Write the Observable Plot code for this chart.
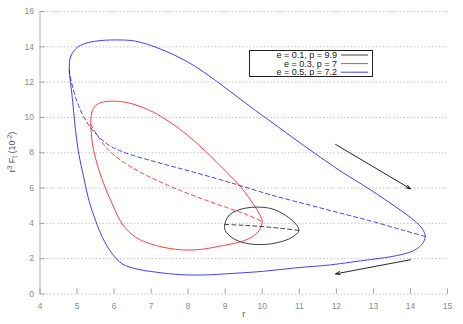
<!DOCTYPE html>
<html>
<head>
<meta charset="utf-8">
<script src="https://cdn.jsdelivr.net/npm/d3@7"></script>
<script src="https://cdn.jsdelivr.net/npm/@observablehq/plot@0.6"></script>
<style>
  body { margin: 0; background: #fff; }
  svg { display: block; }
</style>
</head>
<body>
<div id="chart"></div>
<script>
// ---- tick values ----
const xTicks = [4, 5, 6, 7, 8, 9, 10, 11, 12, 13, 14, 15];
const yTicks = [0, 2, 4, 6, 8, 10, 12, 14, 16];

// ---- series ----
const seriesNames = ["e = 0.1, p = 9.9", "e = 0.3, p = 7", "e = 0.5, p = 7.2"];
const seriesColors = ["#000000", "#ff0000", "#0000ff"];

// e = 0.1, p = 9.9 (black) : closed loop and dashed chord
const blackLoopR = [8.99, 9.1, 9.37, 9.82, 10.27, 10.63, 10.9, 10.99, 10.81, 10.45, 10.0, 9.55, 9.19, 9.0];
const blackLoopV = [3.94, 4.45, 4.77, 4.92, 4.82, 4.45, 3.97, 3.6, 3.22, 2.93, 2.8, 2.88, 3.18, 3.6];
const blackDashR = [8.99, 9.5, 10.0, 10.5, 10.99];
const blackDashV = [3.94, 3.89, 3.82, 3.72, 3.6];

// e = 0.3, p = 7 (red)
const redLoopR = [5.37, 5.40, 5.5, 5.68, 6.04, 6.4, 6.94, 7.4, 7.95, 8.5, 9.0, 9.45, 9.75, 9.93, 10.0, 9.92, 9.73, 9.37, 8.92, 8.4, 7.84, 7.12, 6.58, 6.22, 5.95, 5.72, 5.54, 5.45, 5.4];
const redLoopV = [9.6, 10.3, 10.67, 10.86, 10.92, 10.82, 10.42, 9.88, 9.05, 8.02, 6.98, 5.98, 5.12, 4.5, 4.1, 3.62, 3.24, 2.93, 2.74, 2.54, 2.5, 2.75, 3.22, 3.97, 5.1, 6.24, 7.37, 8.13, 8.75];
const redDashR = [5.37, 5.63, 5.9, 6.26, 6.71, 7.16, 7.79, 8.51, 9.14, 9.6, 10.0];
const redDashV = [9.6, 8.72, 8.05, 7.46, 6.9, 6.43, 5.86, 5.29, 4.82, 4.48, 4.1];

// e = 0.5, p = 7.2 (blue)
const blueLoopR = [4.79, 4.82, 4.96, 5.14, 5.5, 6.04, 6.58, 7.12, 7.66, 8.2, 8.74, 9.28, 9.82, 10.22, 11.12, 12.02, 12.92, 13.64, 14.09, 14.32, 14.4, 14.32, 14.09, 13.64, 12.92, 12.38, 11.84, 10.9, 10.0, 9.0, 8.47, 7.84, 7.12, 6.58, 6.22, 5.95, 5.68, 5.5, 5.32, 5.18, 5.05, 4.96, 4.87, 4.81];
const blueLoopV = [12.7, 13.41, 13.88, 14.13, 14.32, 14.39, 14.32, 13.98, 13.5, 12.88, 12.09, 11.24, 10.39, 9.78, 8.41, 7.09, 5.9, 4.88, 4.18, 3.69, 3.26, 2.84, 2.46, 2.18, 1.95, 1.8, 1.65, 1.48, 1.28, 1.14, 1.08, 1.09, 1.24, 1.43, 1.71, 2.28, 3.22, 4.16, 5.29, 6.61, 7.9, 9.26, 11.14, 12.2];
const blueDashR = [4.79, 4.82, 4.96, 5.14, 5.36, 5.81, 6.26, 7.16, 8.06, 8.96, 9.5, 10.22, 11.12, 12.02, 12.92, 13.82, 14.4];
const blueDashV = [12.7, 12.28, 11.14, 10.2, 9.44, 8.5, 8.03, 7.46, 6.95, 6.42, 6.08, 5.62, 5.12, 4.63, 4.14, 3.6, 3.26];

// direction arrows
const arrowX1 = [11.98, 14.0];
const arrowY1 = [8.47, 1.94];
const arrowX2 = [14.0, 11.98];
const arrowY2 = [5.96, 1.14];

// ---- tables built from the arrays ----
const pts = (rs, vs, series) => rs.map((r, i) => ({r, v: vs[i], series}));
const loops = [
  ...pts(blackLoopR, blackLoopV, seriesNames[0]),
  ...pts(redLoopR, redLoopV, seriesNames[1]),
  ...pts(blueLoopR, blueLoopV, seriesNames[2])
];
const chords = [
  ...pts(blackDashR, blackDashV, seriesNames[0]),
  ...pts(redDashR, redDashV, seriesNames[1]),
  ...pts(blueDashR, blueDashV, seriesNames[2])
];
const arrows = arrowX1.map((x, i) => ({x1: x, y1: arrowY1[i], x2: arrowX2[i], y2: arrowY2[i]}));

const font = "'Liberation Sans', Arial, Helvetica, sans-serif";

const svg = Plot.plot({
  width: 463,
  height: 324,
  marginLeft: 39.5,
  marginRight: 16,
  marginTop: 11,
  marginBottom: 30.5,
  style: {fontFamily: font, fontSize: "8.5px", background: "#fff", color: "#222"},
  x: {domain: [4, 15], label: null},
  y: {domain: [0, 16], label: null},
  color: {domain: seriesNames, range: seriesColors},
  marks: [
    Plot.ruleY(yTicks, {stroke: "#c4c4c4", strokeDasharray: "1.5,2"}),
    Plot.ruleX([4], {stroke: "#b0b0b0"}),
    Plot.axisY({ticks: yTicks, tickSize: 0, tickPadding: 6, fill: "#8a8a8a", label: null}),
    Plot.axisY({ticks: yTicks, tickSize: 5, dx: 5, stroke: "#a0a0a0", tickFormat: () => "", label: null}),
    Plot.axisX({ticks: xTicks, tickSize: 0, tickPadding: 9, fill: "#8a8a8a", label: null}),
    Plot.axisX({ticks: xTicks, tickSize: 5, dy: -5, stroke: "#a0a0a0", tickFormat: () => "", label: null}),
    Plot.text(["r"], {frameAnchor: "bottom", dy: 22.5, fill: "#555", fontSize: 9}),
    Plot.line(loops, {x: "r", y: "v", z: "series", stroke: "series", strokeWidth: 0.75, curve: "catmull-rom-closed"}),
    Plot.line(chords, {x: "r", y: "v", z: "series", stroke: "series", strokeWidth: 0.75, strokeDasharray: "4,3", curve: "catmull-rom"}),
    Plot.arrow(arrows, {x1: "x1", y1: "y1", x2: "x2", y2: "y2", stroke: "#000", strokeWidth: 0.85, headLength: 8, headAngle: 40})
  ]
});

// y-axis title with super/subscripts
const s = d3.select(svg);
const yl = s.append("text")
  .attr("transform", "translate(15,152) rotate(-90)")
  .attr("text-anchor", "middle")
  .attr("fill", "#555")
  .style("font-family", font)
  .style("font-size", "9px");
yl.append("tspan").text("r");
yl.append("tspan").attr("dy", -3.5).style("font-size", "6.5px").text("3");
yl.append("tspan").attr("dy", 3.5).text(" F");
yl.append("tspan").attr("dy", 2).style("font-size", "6.5px").text("t");
yl.append("tspan").attr("dy", -2).text(" (10");
yl.append("tspan").attr("dy", -3.5).style("font-size", "6.5px").text("-2");
yl.append("tspan").attr("dy", 3.5).text(")");

// legend box
const lg = s.append("g").style("font-family", font).style("font-size", "9px");
lg.append("rect").attr("x", 249.5).attr("y", 50.5).attr("width", 123).attr("height", 26)
  .attr("fill", "#fff").attr("stroke", "#222").attr("stroke-width", 1);
seriesNames.forEach((name, i) => {
  const y = 55 + i * 8.6;
  lg.append("text").attr("x", 337).attr("y", y).attr("dy", "0.35em")
    .attr("text-anchor", "end").attr("fill", "#222").text(name);
  lg.append("line").attr("x1", 341).attr("x2", 368).attr("y1", y).attr("y2", y)
    .attr("stroke", seriesColors[i]).attr("stroke-width", 0.75);
});

document.getElementById("chart").appendChild(svg);
</script>
</body>
</html>
